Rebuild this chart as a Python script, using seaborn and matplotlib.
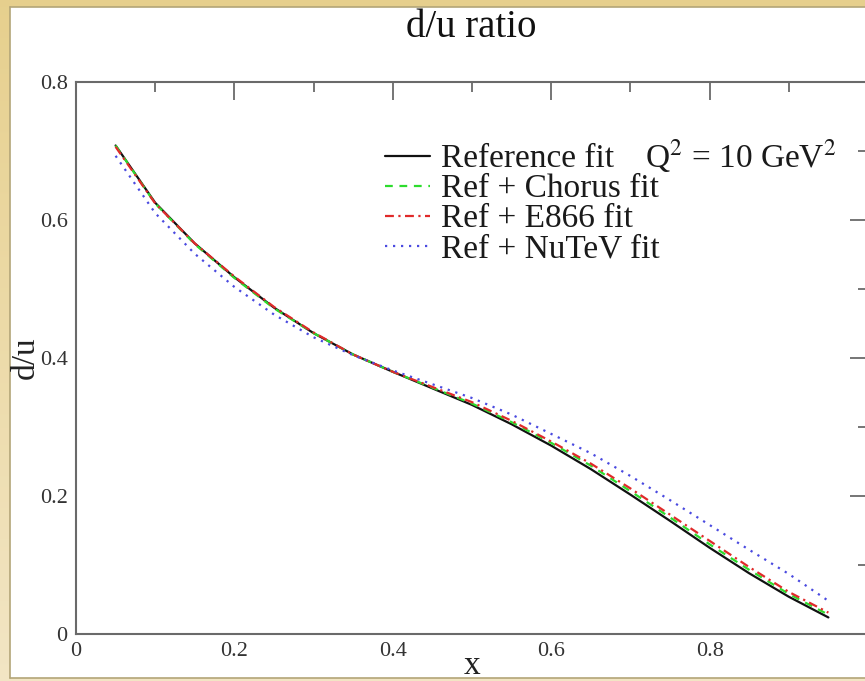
import numpy as np
import pandas as pd
import matplotlib
matplotlib.use("Agg")
import matplotlib.pyplot as plt
import seaborn as sns
from matplotlib.lines import Line2D
from matplotlib.patches import Rectangle
from matplotlib.ticker import MultipleLocator

# d/u ratio at Q^2 = 10 GeV^2 for the reference fit and three extended fits
x_vals = [0.05, 0.10, 0.15, 0.20, 0.25, 0.30, 0.35, 0.40, 0.45, 0.50,
          0.55, 0.60, 0.65, 0.70, 0.75, 0.80, 0.85, 0.90, 0.95]
reference_fit = [0.708, 0.625, 0.566, 0.517, 0.473, 0.436, 0.405, 0.380, 0.356, 0.332,
                 0.304, 0.273, 0.239, 0.202, 0.164, 0.125, 0.088, 0.054, 0.024]
chorus_fit = [0.708, 0.624, 0.565, 0.516, 0.472, 0.436, 0.405, 0.380, 0.357, 0.334,
              0.307, 0.277, 0.244, 0.207, 0.169, 0.130, 0.093, 0.058, 0.028]
e866_fit = [0.706, 0.624, 0.566, 0.518, 0.474, 0.437, 0.405, 0.380, 0.358, 0.336,
            0.309, 0.279, 0.247, 0.211, 0.173, 0.135, 0.097, 0.061, 0.031]
nutev_fit = [0.693, 0.610, 0.551, 0.503, 0.463, 0.430, 0.404, 0.382, 0.362, 0.342,
             0.318, 0.290, 0.262, 0.229, 0.194, 0.158, 0.122, 0.087, 0.048]

series_names = ["Reference fit", "Ref + Chorus fit", "Ref + E866 fit", "Ref + NuTeV fit"]
series_values = [reference_fit, chorus_fit, e866_fit, nutev_fit]
series_colors = ["#111111", "#2ddc2d", "#e02a2a", "#4a4ae0"]
series_dashes = ["", (3.5, 3.0), (4.0, 2.0, 1.0, 2.0), (1.0, 2.6)]

x_ticks = [0, 0.2, 0.4, 0.6, 0.8]
x_tick_labels = ["0", "0.2", "0.4", "0.6", "0.8"]
y_ticks = [0, 0.2, 0.4, 0.6, 0.8]
y_tick_labels = ["0", "0.2", "0.4", "0.6", "0.8"]

df = pd.DataFrame({
    "x": np.tile(x_vals, len(series_names)),
    "du": np.concatenate(series_values),
    "fit": np.repeat(series_names, len(x_vals)),
})

sns.set_theme(style="white")
plt.rcParams["font.family"] = ["Liberation Serif", "DejaVu Serif"]
plt.rcParams["mathtext.fontset"] = "stix"

W, H = 865, 681
fig = plt.figure(figsize=(W / 100, H / 100), dpi=100)

# beige slide frame with a white panel
bg = fig.add_axes([0, 0, 1, 1], zorder=-10)
bg.set_axis_off()
g = np.linspace(0, 1, 256)[:, None, None]
top_col = np.array([0.905, 0.815, 0.555])
bot_col = np.array([0.950, 0.900, 0.770])
grad = top_col * (1 - g) + bot_col * g
bg.imshow(grad, extent=[0, 1, 0, 1], aspect="auto", origin="upper")
bg.set_xlim(0, 1)
bg.set_ylim(0, 1)
bg.add_patch(Rectangle((10 / W, 3 / H), 1, (H - 10) / H, facecolor="white",
                       edgecolor="none", transform=bg.transAxes))
edge = "#b3a578"
bg.add_line(Line2D([10 / W, 10 / W], [3 / H, 1 - 7 / H], color=edge, lw=1.2))
bg.add_line(Line2D([10 / W, 1], [1 - 7 / H, 1 - 7 / H], color=edge, lw=1.2))
bg.add_line(Line2D([10 / W, 1], [3 / H, 3 / H], color=edge, lw=1.2))

ax = fig.add_axes([76 / W, 47 / H, 792 / W, 552 / H])
ax.set_facecolor("none")

sns.lineplot(data=df, x="x", y="du", hue="fit", style="fit",
             palette=dict(zip(series_names, series_colors)),
             dashes=dict(zip(series_names, series_dashes)),
             hue_order=series_names, style_order=series_names,
             linewidth=1.6, legend=False, sort=False, estimator=None, ax=ax)

ax.set_xlim(0, 1)
ax.set_ylim(0, 0.8)
ax.set_xticks(x_ticks, x_tick_labels)
ax.set_yticks(y_ticks, y_tick_labels)
ax.xaxis.set_minor_locator(MultipleLocator(0.1))
ax.yaxis.set_minor_locator(MultipleLocator(0.1))
ax.tick_params(which="both", direction="in", top=True, right=True,
               color="#6a6a6a", width=1.3, labelsize=16, labelcolor="#333333")
ax.tick_params(which="major", length=13, pad=6)
ax.tick_params(which="minor", length=7)
for s in ax.spines.values():
    s.set_visible(True)
    s.set_color("#6a6a6a")
    s.set_linewidth(1.5)

ax.set_xlabel("x", fontsize=24, color="#222222")
ax.xaxis.set_label_coords(0.5, -0.03)
ax.set_ylabel("d/u", fontsize=24, color="#222222")
ax.yaxis.set_label_coords(-0.045, 0.5)

fig.text(471 / W, 1 - 37 / H, "d/u ratio", ha="center", va="baseline",
         fontsize=28, color="#111111")

# legend block
def ax_x(px):
    return (px - 76) / 792

def ax_y(py):
    return (634 - py) / 552

baselines = [167, 197, 227, 257]
for name, col, dsh, yb in zip(series_names, series_colors, series_dashes, baselines):
    yl = ax_y(yb - 11)
    line = Line2D([ax_x(385), ax_x(430)], [yl, yl], color=col, lw=1.6,
                  transform=ax.transAxes)
    if dsh:
        line.set_dashes(dsh)
    ax.add_line(line)
    ax.text(ax_x(441), ax_y(yb), name, transform=ax.transAxes, fontsize=24,
            va="baseline", ha="left", color="#1a1a1a")
ax.text(ax_x(645), ax_y(baselines[0]), r"Q$^2$ = 10 GeV$^2$", transform=ax.transAxes,
        fontsize=24, va="baseline", ha="left", color="#1a1a1a")

fig.savefig("out.png", dpi=100)
